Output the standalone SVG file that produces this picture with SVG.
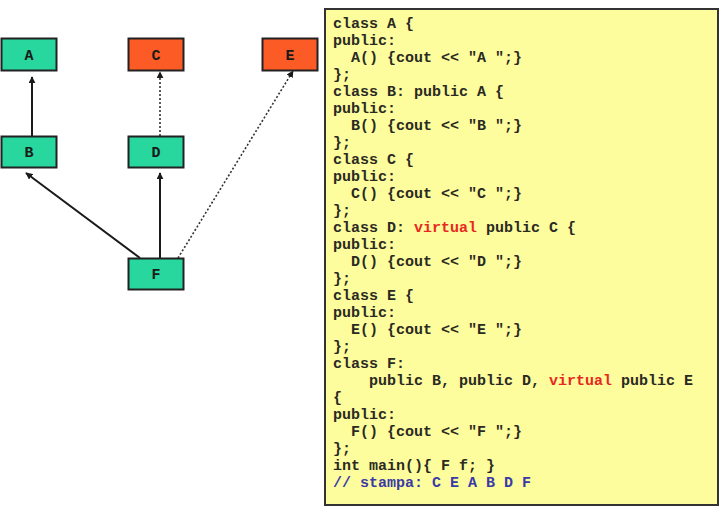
<svg xmlns="http://www.w3.org/2000/svg" width="721" height="512" viewBox="0 0 721 512">
<defs>
<style>
.node rect{stroke:#222;stroke-width:2}
.green{fill:#27d79d}
.orange{fill:#fd5b25}
.lbl{font-family:"Liberation Mono","Courier New",monospace;font-weight:bold;font-size:15px;fill:#1a1a1a;text-anchor:middle}
.solid{stroke:#1a1a1a;stroke-width:2;fill:none}
.dot{stroke:#333;stroke-width:1.6;stroke-dasharray:2 2;fill:none}
.code{font-family:"Liberation Mono","Courier New",monospace;font-weight:bold;font-size:15px;fill:#2a2a22;white-space:pre}
.kw{fill:#e8281e}
.cm{fill:#3a3aa6}
</style>
<marker id="ah" viewBox="0 0 10 10" refX="9" refY="5" markerWidth="7" markerHeight="7" markerUnits="userSpaceOnUse" orient="auto">
<path d="M0,0 L10,5 L0,10 z" fill="#1a1a1a"/>
</marker>
</defs>
<rect width="721" height="512" fill="#ffffff"/>
<g id="connectors">
<line class="solid" x1="32" y1="136" x2="32" y2="77" marker-end="url(#ah)"/>
<line class="dot" x1="160" y1="136" x2="160" y2="72" marker-end="url(#ah)"/>
<line class="solid" x1="140" y1="258" x2="26" y2="173" marker-end="url(#ah)"/>
<line class="solid" x1="160" y1="258" x2="160" y2="173" marker-end="url(#ah)"/>
<line class="dot" x1="178" y1="258" x2="293" y2="71" marker-end="url(#ah)"/>
</g>
<g id="node-A" class="node"><rect class="green" x="1.5" y="38.5" width="55" height="32"/><text class="lbl" x="29" y="60">A</text></g>
<g id="node-C" class="node"><rect class="orange" x="128.5" y="38.5" width="55" height="32"/><text class="lbl" x="156" y="60">C</text></g>
<g id="node-E" class="node"><rect class="orange" x="262.5" y="38.5" width="55" height="32"/><text class="lbl" x="290" y="60">E</text></g>
<g id="node-B" class="node"><rect class="green" x="1.5" y="136.5" width="55" height="31"/><text class="lbl" x="29" y="157">B</text></g>
<g id="node-D" class="node"><rect class="green" x="128.5" y="136.5" width="55" height="31"/><text class="lbl" x="156" y="157">D</text></g>
<g id="node-F" class="node"><rect class="green" x="128.5" y="258.5" width="55" height="31"/><text class="lbl" x="156" y="279">F</text></g>
<g id="code">
<rect x="325" y="9" width="393" height="496" fill="#fefd9e" stroke="#333" stroke-width="2"/>
<text class="code" x="333" y="28">class A {</text>
<text class="code" x="333" y="45">public:</text>
<text class="code" x="333" y="62">  A() {cout &lt;&lt; "A ";}</text>
<text class="code" x="333" y="79">};</text>
<text class="code" x="333" y="96">class B: public A {</text>
<text class="code" x="333" y="113">public:</text>
<text class="code" x="333" y="130">  B() {cout &lt;&lt; "B ";}</text>
<text class="code" x="333" y="147">};</text>
<text class="code" x="333" y="164">class C {</text>
<text class="code" x="333" y="181">public:</text>
<text class="code" x="333" y="198">  C() {cout &lt;&lt; "C ";}</text>
<text class="code" x="333" y="215">};</text>
<text class="code" x="333" y="232">class D: <tspan class="kw">virtual</tspan> public C {</text>
<text class="code" x="333" y="249">public:</text>
<text class="code" x="333" y="266">  D() {cout &lt;&lt; "D ";}</text>
<text class="code" x="333" y="283">};</text>
<text class="code" x="333" y="300">class E {</text>
<text class="code" x="333" y="317">public:</text>
<text class="code" x="333" y="334">  E() {cout &lt;&lt; "E ";}</text>
<text class="code" x="333" y="351">};</text>
<text class="code" x="333" y="368">class F:</text>
<text class="code" x="333" y="385">    public B, public D, <tspan class="kw">virtual</tspan> public E</text>
<text class="code" x="333" y="402">{</text>
<text class="code" x="333" y="419">public:</text>
<text class="code" x="333" y="436">  F() {cout &lt;&lt; "F ";}</text>
<text class="code" x="333" y="453">};</text>
<text class="code" x="333" y="470">int main(){ F f; }</text>
<text class="code cm" x="333" y="487">// stampa: C E A B D F</text>
</g>
</svg>
